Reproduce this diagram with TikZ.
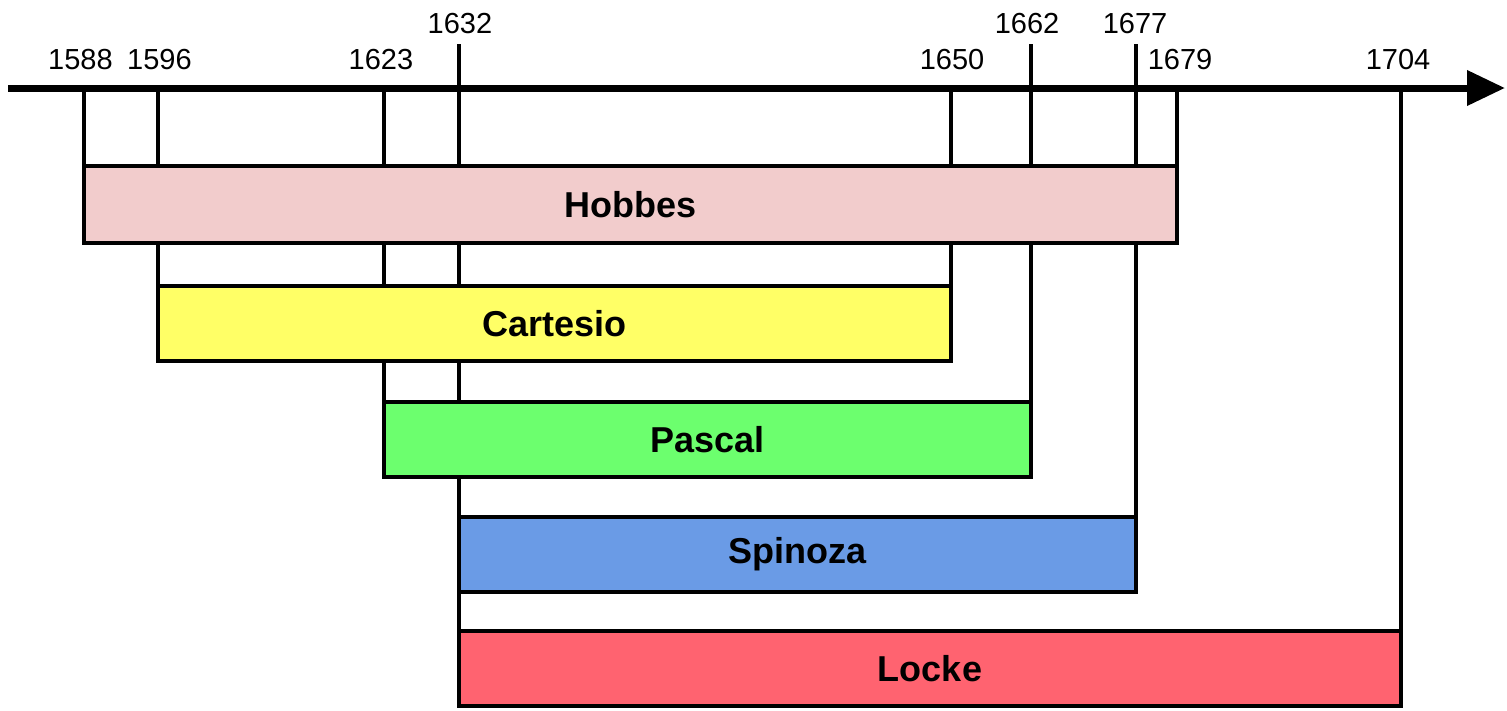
\documentclass[tikz,border=0pt]{standalone}
\usepackage{fontspec}
\setmainfont{Liberation Sans}
\usetikzlibrary{arrows.meta}
\definecolor{hob}{RGB}{242,204,204}
\definecolor{car}{RGB}{255,255,102}
\definecolor{pas}{RGB}{108,255,110}
\definecolor{spi}{RGB}{106,155,230}
\definecolor{loc}{RGB}{255,99,112}
\pgfdeclarelayer{bg}
\pgfsetlayers{bg,main}
\begin{document}
\begin{tikzpicture}[x=1pt,y=-1pt,
  bar/.style={draw=black,line width=4pt,inner sep=0pt,outer sep=0pt,minimum height=75pt,
    font=\fontsize{36}{36}\selectfont\bfseries},
  year/.style={font=\fontsize{29}{29}\selectfont,anchor=base,inner sep=0pt},
  tickline/.style={line width=4pt},
  axisline/.style={line width=7pt,-{Triangle[length=38pt,width=34pt]}}]
\useasboundingbox (0,0) rectangle (1507,710);

% axis
\coordinate (axL) at (8,88);
\coordinate (axR) at (1505,88);
\draw[axisline] (axL) -- (axR);

% bars
\node[bar,fill=hob,minimum width=1093pt,minimum height=77pt] (hobbes) at (630.5,204.5) {Hobbes};
\node[bar,fill=car,minimum width=793pt] (cartesio) at (554.5,323.5) {Cartesio};
\node[bar,fill=pas,minimum width=647pt] (pascal) at (707.5,439.5) {Pascal};
\node[bar,fill=spi,minimum width=677pt] (spinoza) at (797.5,554.5) {Spinoza};
\node[bar,fill=loc,minimum width=942pt] (locke) at (930,668.5) {Locke};

% upper tick tops
\coordinate (top) at (0,44);

\begin{pgfonlayer}{bg}
\draw[tickline] (hobbes.north west |- axL) -- (hobbes.north west);
\draw[tickline] (hobbes.north east |- axL) -- (hobbes.north east);
\draw[tickline] (cartesio.north west |- axL) -- (cartesio.north west);
\draw[tickline] (cartesio.north east |- axL) -- (cartesio.north east);
\draw[tickline] (pascal.north west |- axL) -- (pascal.north west);
\draw[tickline] (pascal.north east |- top) -- (pascal.north east);
\draw[tickline] (spinoza.north west |- top) -- (locke.north west);
\draw[tickline] (spinoza.north east |- top) -- (spinoza.north east);
\draw[tickline] (locke.north east |- axL) -- (locke.north east);
\end{pgfonlayer}

% year labels
\node[year] (y1588) at (80.5,69) {1588};
\node[year] (y1596) at (159.5,69) {1596};
\node[year] (y1623) at (381,69) {1623};
\node[year] (y1632) at (460,33) {1632};
\node[year] (y1650) at (952,69) {1650};
\node[year] (y1662) at (1027,33) {1662};
\node[year] (y1677) at (1135,33) {1677};
\node[year] (y1679) at (1180,69) {1679};
\node[year] (y1704) at (1398,69) {1704};
\end{tikzpicture}
\end{document}
